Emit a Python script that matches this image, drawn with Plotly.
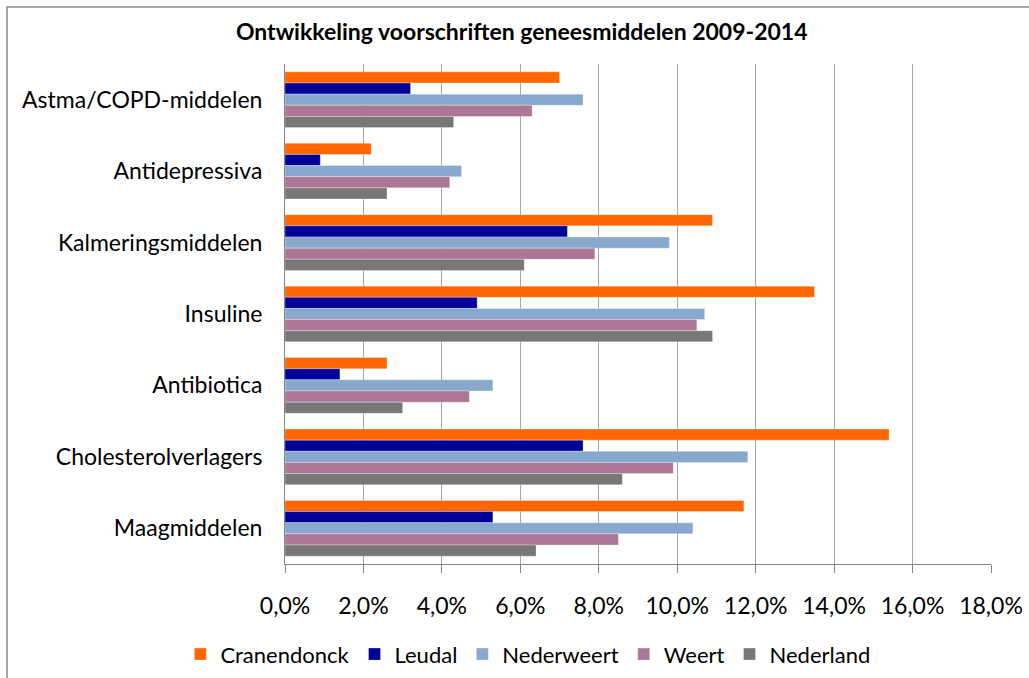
import plotly.graph_objects as go

categories = ["Astma/COPD-middelen", "Antidepressiva", "Kalmeringsmiddelen",
              "Insuline", "Antibiotica", "Cholesterolverlagers", "Maagmiddelen"]

cranendonck = [7.0, 2.2, 10.9, 13.5, 2.6, 15.4, 11.7]
leudal = [3.2, 0.9, 7.2, 4.9, 1.4, 7.6, 5.3]
nederweert = [7.6, 4.5, 9.8, 10.7, 5.3, 11.8, 10.4]
weert = [6.3, 4.2, 7.9, 10.5, 4.7, 9.9, 8.5]
nederland = [4.3, 2.6, 6.1, 10.9, 3.0, 8.6, 6.4]

series_names = ["Cranendonck", "Leudal", "Nederweert", "Weert", "Nederland"]
series_values = [cranendonck, leudal, nederweert, weert, nederland]
colors = ["#FF6600", "#000099", "#87A9CE", "#AB7795", "#777777"]

x_ticks = [0, 2, 4, 6, 8, 10, 12, 14, 16, 18]
x_tick_labels = ["0,0%", "2,0%", "4,0%", "6,0%", "8,0%", "10,0%", "12,0%",
                 "14,0%", "16,0%", "18,0%"]

FONT = "Lato, Open Sans, sans-serif"

fig = go.Figure()
for name, vals, col in zip(series_names, series_values, colors):
    fig.add_trace(go.Bar(
        y=categories, x=vals, name=name, orientation="h",
        marker=dict(color=col, line=dict(color="rgba(255,255,255,0.6)", width=0.5)),
    ))

fig.update_layout(
    width=1029, height=678,
    barmode="group", bargap=0.22, bargroupgap=0.0,
    paper_bgcolor="white", plot_bgcolor="white",
    margin=dict(l=285, r=38, t=64, b=114, autoexpand=False),
    font=dict(family=FONT, size=23, color="#000000"),
    title=dict(text="<b>Ontwikkeling voorschriften geneesmiddelen 2009-2014</b>",
               x=0.507, xanchor="center", y=0.953, yanchor="middle",
               font=dict(family=FONT, size=23, color="#000000")),
    xaxis=dict(range=[0, 18], tickvals=x_ticks, ticktext=x_tick_labels,
               showgrid=True, gridcolor="#A6A6A6", gridwidth=1,
               showline=True, linecolor="#868686", linewidth=1,
               ticks="outside", ticklen=8, tickcolor="#868686", automargin=False,
               tickfont=dict(size=23), zeroline=False, ticklabelstandoff=13),
    yaxis=dict(categoryorder="array", categoryarray=categories, autorange="reversed",
               showline=True, linecolor="#868686", linewidth=1, automargin=False,
               ticks="", tickfont=dict(size=23), ticklabelstandoff=17),
    legend=dict(orientation="h", xref="container", yref="container",
                x=0.513, xanchor="center", y=0.004, yanchor="bottom",
                bgcolor="rgba(0,0,0,0)",
                font=dict(size=22), itemwidth=30, traceorder="normal"),
    shapes=[dict(type="rect", xref="paper", yref="paper",
                 x0=(7 - 285) / 706, x1=(1040 - 285) / 706,
                 y0=(564 - 690) / 500, y1=(564 - 7) / 500,
                 line=dict(color="#888888", width=1.5), fillcolor="rgba(0,0,0,0)",
                 layer="below")],
)

fig.write_html("out.html", post_script="document.body.style.margin='0px';",
               config={"displayModeBar": False})
